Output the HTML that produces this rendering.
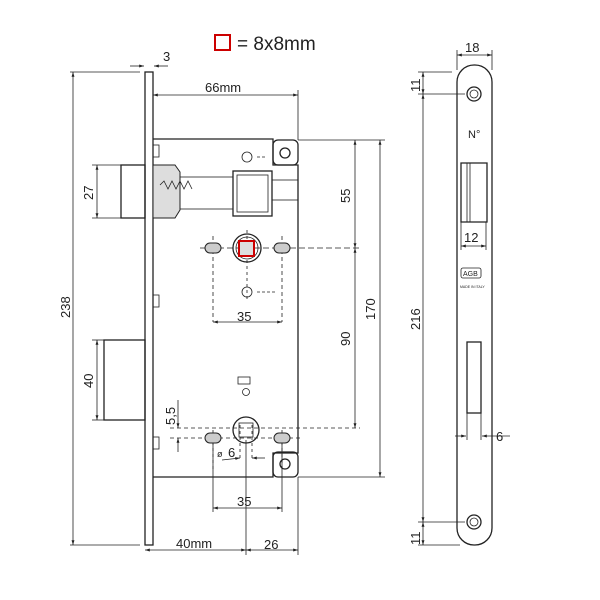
<!DOCTYPE html>
<html><head><style>body{margin:0;background:#fff}svg{display:block}text{font-family:"Liberation Sans",sans-serif;fill:#222}</style></head><body>
<svg width="600" height="600" viewBox="0 0 600 600" xmlns="http://www.w3.org/2000/svg">
<defs><marker id="a" viewBox="0 0 10 10" refX="10" refY="5" markerWidth="6" markerHeight="6" orient="auto-start-reverse"><path d="M0,2L10,5L0,8z" fill="#222"/></marker></defs>
<rect x="215" y="35" width="15" height="15" fill="none" stroke="#c00" stroke-width="2"/>
<text x="237" y="50" font-size="19">= 8x8mm</text>
<g stroke="#222" stroke-width="0.8" fill="none">
<!-- dimension lines -->
<line x1="73" y1="72" x2="73" y2="545" marker-start="url(#a)" marker-end="url(#a)"/>
<line x1="70" y1="72" x2="140" y2="72"/><line x1="70" y1="545" x2="140" y2="545"/>
<line x1="130" y1="66" x2="144" y2="66" marker-end="url(#a)"/><line x1="168" y1="66" x2="154" y2="66" marker-end="url(#a)"/>
<line x1="153" y1="95" x2="298" y2="95" marker-start="url(#a)" marker-end="url(#a)"/><line x1="298" y1="90" x2="298" y2="140"/>
<line x1="298" y1="140" x2="385" y2="140"/><line x1="298" y1="477" x2="385" y2="477"/>
<line x1="355" y1="140" x2="355" y2="248" marker-start="url(#a)" marker-end="url(#a)"/>
<line x1="355" y1="248" x2="355" y2="428" marker-start="url(#a)" marker-end="url(#a)"/>
<line x1="380" y1="140" x2="380" y2="477" marker-start="url(#a)" marker-end="url(#a)"/>
<line x1="97" y1="165" x2="97" y2="218" marker-start="url(#a)" marker-end="url(#a)"/>
<line x1="92" y1="165" x2="121" y2="165"/><line x1="92" y1="218" x2="121" y2="218"/>
<line x1="97" y1="340" x2="97" y2="420" marker-start="url(#a)" marker-end="url(#a)"/>
<line x1="92" y1="340" x2="104" y2="340"/><line x1="92" y1="420" x2="104" y2="420"/>
<line x1="213" y1="322" x2="282" y2="322" marker-start="url(#a)" marker-end="url(#a)"/>
<line x1="213" y1="508" x2="282" y2="508" marker-start="url(#a)" marker-end="url(#a)"/>
<line x1="145" y1="550" x2="246" y2="550" marker-start="url(#a)" marker-end="url(#a)"/>
<line x1="246" y1="550" x2="298" y2="550" marker-start="url(#a)" marker-end="url(#a)"/>
<line x1="246" y1="440" x2="246" y2="555"/><line x1="298" y1="477" x2="298" y2="555"/><line x1="213" y1="440" x2="213" y2="512"/><line x1="282" y1="440" x2="282" y2="512"/>
<line x1="178" y1="400" x2="178" y2="428" marker-end="url(#a)"/><line x1="178" y1="452" x2="178" y2="438" marker-end="url(#a)"/>
<line x1="170" y1="428" x2="360" y2="428" stroke-dasharray="4,3"/>
<line x1="170" y1="438" x2="300" y2="438" stroke-dasharray="4,3"/>
<line x1="213" y1="236" x2="213" y2="322" stroke-dasharray="4,3"/><line x1="282" y1="236" x2="282" y2="322" stroke-dasharray="4,3"/>
<line x1="200" y1="248" x2="360" y2="248" stroke-dasharray="6,3"/>
<line x1="247" y1="230" x2="247" y2="300" stroke-dasharray="3,3"/>
<line x1="213" y1="430" x2="213" y2="470" stroke-dasharray="3,3"/><line x1="282" y1="430" x2="282" y2="470" stroke-dasharray="3,3"/>
<line x1="240" y1="425" x2="240" y2="460" stroke-dasharray="3,3"/><line x1="252" y1="425" x2="252" y2="460" stroke-dasharray="3,3"/>
<line x1="222" y1="460" x2="240" y2="458" marker-end="url(#a)"/><line x1="265" y1="458" x2="252" y2="458" marker-end="url(#a)"/>
<line x1="257" y1="157" x2="265" y2="157" stroke-dasharray="3,2"/><line x1="257" y1="292" x2="275" y2="292" stroke-dasharray="3,2"/>
<!-- faceplate -->
<rect x="145" y="72" width="8" height="473" stroke-width="1.3"/>
<!-- case -->
<path d="M153,139H273V165H298V453H273V477H153" stroke-width="1.3"/>
<rect x="273" y="140" width="25" height="25" rx="5" stroke-width="1.3"/><circle cx="285" cy="153" r="5" stroke-width="1.3"/>
<rect x="273" y="452" width="25" height="25" rx="5" stroke-width="1.3"/><circle cx="285" cy="464" r="5" stroke-width="1.3"/>
<rect x="153" y="145" width="6" height="12" /><rect x="153" y="295" width="6" height="12"/><rect x="153" y="437" width="6" height="12"/>
<!-- latch -->
<rect x="121" y="165" width="24" height="53" stroke-width="1.3"/>
<path d="M153,165H175L180,172V210L175,218H153Z" fill="#ddd" stroke-width="1"/>
<path d="M160,185 l4,-4 l4,8 l4,-8 l4,8 l4,-8 l4,8 l4,-8 l4,8" />
<rect x="180" y="177" width="53" height="32"/>
<rect x="233" y="171" width="39" height="45" stroke-width="1.3"/><rect x="237" y="175" width="31" height="37"/>
<rect x="272" y="180" width="26" height="20"/>
<!-- deadbolt -->
<rect x="104" y="340" width="41" height="80" stroke-width="1.3"/>
<!-- hubs -->
<circle cx="247" cy="248" r="14" stroke-width="1.3"/><circle cx="247" cy="248" r="11"/>
<circle cx="246" cy="430" r="13" stroke-width="1.3"/><rect x="239" y="423" width="14" height="14"/>
<circle cx="247" cy="157" r="5"/><circle cx="247" cy="292" r="5"/>
<rect x="238" y="377" width="12" height="7"/><circle cx="246" cy="392" r="3.5"/>
</g>
<g fill="#ccc" stroke="#222" stroke-width="1">
<rect x="205" y="243" width="16" height="10" rx="5"/><rect x="274" y="243" width="16" height="10" rx="5"/>
<rect x="205" y="433" width="16" height="10" rx="5"/><rect x="274" y="433" width="16" height="10" rx="5"/>
</g>
<rect x="239" y="241" width="15" height="15" fill="#ddd" stroke="#c00" stroke-width="2"/>
<!-- right plate -->
<g stroke="#222" fill="none" stroke-width="0.8">
<rect x="457" y="65" width="35" height="480" rx="17" stroke-width="1.3"/>
<circle cx="474" cy="94" r="7" stroke-width="1.3"/><circle cx="474" cy="94" r="4"/>
<circle cx="474" cy="522" r="7" stroke-width="1.3"/><circle cx="474" cy="522" r="4"/>
<path d="M461,163H487V222H461Z" stroke-width="1.3"/><path d="M467,163V222M470,163V222" />
<line x1="461" y1="246" x2="486" y2="246" marker-start="url(#a)" marker-end="url(#a)"/>
<line x1="461" y1="222" x2="461" y2="250"/><line x1="486" y1="222" x2="486" y2="250"/>
<rect x="467" y="342" width="14" height="71" stroke-width="1.3"/>
<line x1="467" y1="413" x2="467" y2="440"/><line x1="481" y1="413" x2="481" y2="440"/>
<line x1="455" y1="436" x2="466" y2="436" marker-end="url(#a)"/><line x1="510" y1="436" x2="482" y2="436" marker-end="url(#a)"/>
<line x1="457" y1="55" x2="492" y2="55" marker-start="url(#a)" marker-end="url(#a)"/>
<line x1="457" y1="50" x2="457" y2="70"/><line x1="492" y1="50" x2="492" y2="70"/>
<line x1="418" y1="72" x2="452" y2="72"/><line x1="418" y1="94" x2="465" y2="94"/><line x1="418" y1="522" x2="465" y2="522"/><line x1="418" y1="545" x2="460" y2="545"/>
<line x1="423" y1="72" x2="423" y2="94" marker-start="url(#a)" marker-end="url(#a)"/>
<line x1="423" y1="94" x2="423" y2="522" marker-start="url(#a)" marker-end="url(#a)"/>
<line x1="423" y1="522" x2="423" y2="545" marker-start="url(#a)" marker-end="url(#a)"/>
<rect x="461" y="268" width="20" height="10" rx="2"/>
</g>
<text x="463" y="276" font-size="7">AGB</text>
<text x="460" y="288" font-size="3.5">MADE IN ITALY</text>
<text x="468" y="138" font-size="11">N°</text>
<text x="464" y="242" font-size="13">12</text>
<text x="496" y="441" font-size="13">6</text>
<text x="465" y="52" font-size="13">18</text>
<g font-size="13">
<text transform="translate(420,92) rotate(-90)">11</text>
<text transform="translate(420,545) rotate(-90)">11</text>
<text transform="translate(420,330) rotate(-90)">216</text>
<text transform="translate(70,318) rotate(-90)">238</text>
<text transform="translate(93,200) rotate(-90)">27</text>
<text transform="translate(93,388) rotate(-90)">40</text>
<text transform="translate(350,203) rotate(-90)">55</text>
<text transform="translate(350,346) rotate(-90)">90</text>
<text transform="translate(375,320) rotate(-90)">170</text>
<text transform="translate(175,425) rotate(-90)">5,5</text>
<text x="163" y="61">3</text>
<text x="205" y="92">66mm</text>
<text x="237" y="321">35</text>
<text x="237" y="506">35</text>
<text x="176" y="548">40mm</text>
<text x="264" y="549">26</text>
<text x="217" y="457" font-size="9">ø</text><text x="228" y="457">6</text>
</g>
</svg>
</body></html>
